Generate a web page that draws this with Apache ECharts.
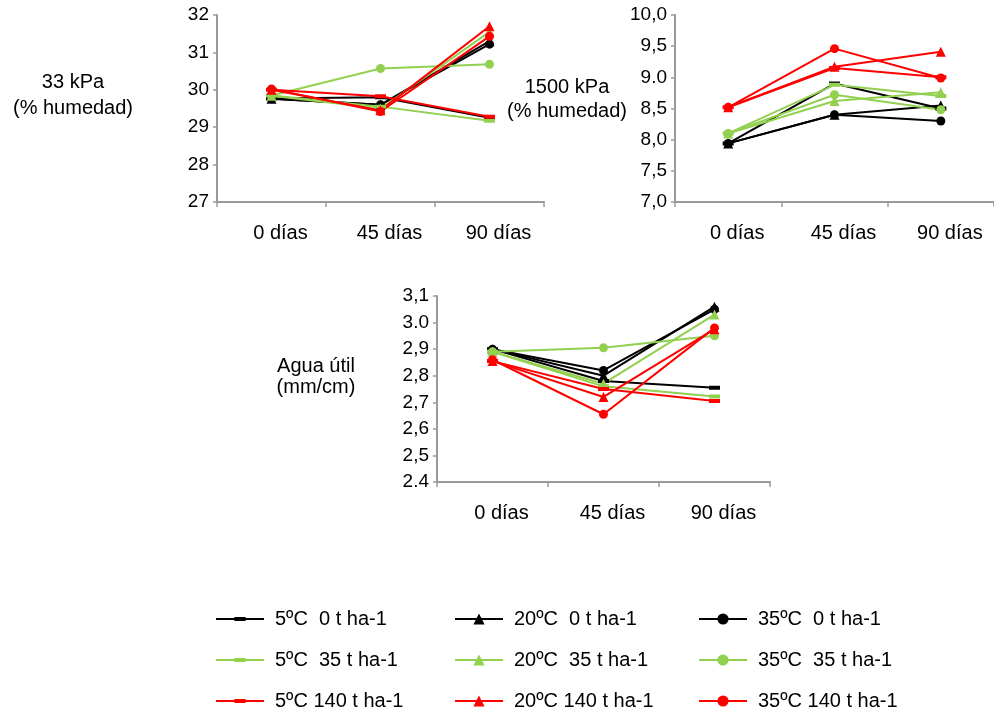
<!DOCTYPE html>
<html>
<head>
<meta charset="utf-8">
<script src="https://cdn.jsdelivr.net/npm/echarts@6/dist/echarts.min.js"></script>
<style>
html,body{margin:0;padding:0;background:#fff;}
#c{width:994px;height:718px;}
</style>
</head>
<body>
<div id="c"></div>
<script>
const categories = ['0 días', '45 días', '90 días'];
const seriesNames = [
  '5ºC  0 t ha-1', '20ºC  0 t ha-1', '35ºC  0 t ha-1',
  '5ºC  35 t ha-1', '20ºC  35 t ha-1', '35ºC  35 t ha-1',
  '5ºC 140 t ha-1', '20ºC 140 t ha-1', '35ºC 140 t ha-1'
];
// 33 kPa (% humedad)
const kpa33Values = [
  [29.77, 29.80, 29.25],
  [29.76, 29.60, 31.30],
  [29.76, 29.60, 31.22],
  [29.85, 29.55, 29.17],
  [29.84, 29.50, 31.55],
  [29.85, 30.57, 30.68],
  [30.00, 29.83, 29.28],
  [30.00, 29.45, 31.70],
  [30.02, 29.42, 31.43]
];
// 1500 kPa (% humedad)
const kpa1500Values = [
  [7.94, 8.90, 8.50],
  [7.94, 8.40, 8.55],
  [7.94, 8.40, 8.30],
  [8.10, 8.88, 8.70],
  [8.10, 8.62, 8.76],
  [8.10, 8.72, 8.48],
  [8.52, 9.15, 9.00],
  [8.52, 9.17, 9.41],
  [8.52, 9.46, 8.99]
];
// Agua útil (mm/cm)
const aguaValues = [
  [2.900, 2.780, 2.755],
  [2.900, 2.800, 3.060],
  [2.900, 2.820, 3.050],
  [2.890, 2.760, 2.722],
  [2.890, 2.770, 3.030],
  [2.890, 2.905, 2.950],
  [2.855, 2.750, 2.705],
  [2.855, 2.720, 2.975],
  [2.860, 2.655, 2.980]
];
const ticks33 = ['27', '28', '29', '30', '31', '32'];
const ticks1500 = ['7,0', '7,5', '8,0', '8,5', '9.0', '9,5', '10,0'];
const ticksAgua = ['2.4', '2,5', '2,6', '2,7', '2,8', '2,9', '3.0', '3,1'];

const seriesColors = ['#000000', '#000000', '#000000', '#92d050', '#92d050', '#92d050', '#ff0000', '#ff0000', '#ff0000'];
const dashSym = 'path://M0,3.2H10V6.8H0Z M0,0Z M10,10Z';
const seriesSymbols = [dashSym, 'triangle', 'circle', dashSym, 'triangle', 'circle', dashSym, 'triangle', 'circle'];
const seriesSymbolSizes = [11, 10, 9, 11, 10, 9, 11, 10, 9];

const FONT = "'Liberation Sans', Arial, sans-serif";
const axisGray = '#9a9a9a';

function makeY(idx, min, max, interval, labels) {
  return {
    type: 'value', gridIndex: idx, min: min, max: max, interval: interval,
    axisLine: {show: true, lineStyle: {color: axisGray, width: 2}},
    axisTick: {show: true, length: 4, lineStyle: {color: axisGray, width: 1.5}},
    splitLine: {show: false},
    axisLabel: {
      margin: 8, color: '#000', fontSize: 19, fontFamily: FONT,
      formatter: function (v) { return labels[Math.round((v - min) / interval)]; }
    }
  };
}
function makeX(idx) {
  return {
    type: 'category', gridIndex: idx, data: categories, boundaryGap: true,
    axisLine: {show: true, lineStyle: {color: axisGray, width: 2}},
    axisTick: {show: true, length: 5, lineStyle: {color: axisGray, width: 1.5}},
    splitLine: {show: false},
    axisLabel: {margin: 21, color: '#000', fontSize: 20, fontFamily: FONT, padding: [0, 0, 0, 18]}
  };
}

const series = [];
[kpa33Values, kpa1500Values, aguaValues].forEach(function (vals, g) {
  vals.forEach(function (row, i) {
    series.push({
      type: 'line', name: seriesNames[i], xAxisIndex: g, yAxisIndex: g,
      data: row,
      symbol: seriesSymbols[i], symbolSize: seriesSymbolSizes[i],
      lineStyle: {color: seriesColors[i], width: 2},
      itemStyle: {color: seriesColors[i]},
      animation: false
    });
  });
});

function makeLegend(left, names) {
  return {
    orient: 'vertical', left: left, top: 609, padding: 0,
    itemWidth: 48, itemHeight: 14, itemGap: 21,
    textStyle: {fontSize: 20, fontFamily: FONT, color: '#000', lineHeight: 20, padding: [0, 0, 0, 6]},
    data: names
  };
}

const chart = echarts.init(document.getElementById('c'), null, {renderer: 'canvas'});
chart.setOption({
  backgroundColor: '#fff',
  animation: false,
  grid: [
    {left: 217, top: 15, width: 327, height: 187},
    {left: 675, top: 15, width: 324, height: 187},
    {left: 437, top: 296, width: 333, height: 186}
  ],
  xAxis: [makeX(0), makeX(1), makeX(2)],
  yAxis: [
    makeY(0, 27, 32, 1, ticks33),
    makeY(1, 7, 10, 0.5, ticks1500),
    makeY(2, 2.4, 3.1, 0.1, ticksAgua)
  ],
  legend: [
    makeLegend(215, [seriesNames[0], seriesNames[3], seriesNames[6]]),
    makeLegend(454, [seriesNames[1], seriesNames[4], seriesNames[7]]),
    makeLegend(698, [seriesNames[2], seriesNames[5], seriesNames[8]])
  ],
  graphic: [
    {type: 'text', x: 73, y: 95, style: {text: '33 kPa\n(% humedad)', font: '20px ' + FONT, fill: '#000', align: 'center', verticalAlign: 'middle', lineHeight: 26}},
    {type: 'text', x: 567, y: 99, style: {text: '1500 kPa\n(% humedad)', font: '20px ' + FONT, fill: '#000', align: 'center', verticalAlign: 'middle', lineHeight: 24}},
    {type: 'text', x: 316, y: 377, style: {text: 'Agua útil\n(mm/cm)', font: '20px ' + FONT, fill: '#000', align: 'center', verticalAlign: 'middle', lineHeight: 21}}
  ],
  series: series
});
</script>
</body>
</html>
